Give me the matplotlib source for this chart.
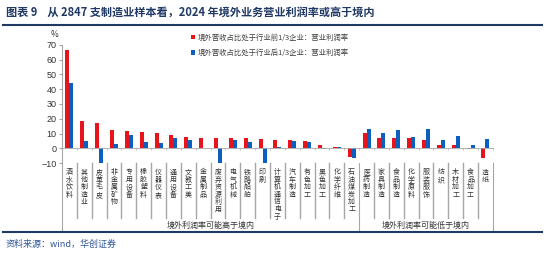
import matplotlib.pyplot as plt
import matplotlib.transforms as mtransforms
from matplotlib.lines import Line2D
import numpy as np

plt.rcParams['font.family'] = ['Noto Sans CJK SC', 'DejaVu Sans']

# 行业分类
categories = ['酒水饮料', '其他制造业', '皮革毛皮', '非金属矿物', '专用设备', '橡胶塑料',
              '仪器仪表', '通用设备', '文教工美', '金属制品', '废弃资源利用', '电气机械',
              '铁路船舶', '印刷', '计算机通信电子', '汽车制造', '有色加工', '黑色加工',
              '化学纤维', '石油煤炭加工',
              '医药制造', '家具制造', '食品制造', '化学原料', '服装服饰', '纺织',
              '木材加工', '食品加工', '造纸']
# 境外营收占比前1/3 / 后1/3 企业营业利润率 (%)
top_third = [66.4, 18.7, 17.1, 12.7, 11.8, 10.7, 10.4, 8.9, 7.6, 7.3, 7.3, 7.1,
             6.7, 6.4, 5.8, 5.3, 4.9, 2.4, 1.1, -5.6,
             10.4, 7.1, 6.9, 6.7, 5.3, 2.2, 2.0, -0.7, -6.7]
bottom_third = [43.9, 4.9, -10.0, 2.7, 9.1, 4.0, 3.3, 7.3, 5.3, 0.4, -10.0, 5.8,
                4.2, -10.0, 0.7, 4.7, 4.4, -0.2, 1.1, -6.7,
                12.9, 10.4, 12.2, 7.6, 12.9, 5.8, 8.4, 2.0, 6.0]
groups = ['境外利润率可能高于境内', '境外利润率可能低于境内']
group_sizes = [20, 9]
yticks = list(range(-10, 71, 10))

red = '#E8141C'
blue = '#0A5FBF'
navy = '#1F3864'
gray = '#A6A6A6'

fig = plt.figure(figsize=(5.5, 2.58), dpi=100)
ax = fig.add_axes([0.1127, 0.3678, 0.7833, 0.4589])

x = np.arange(len(categories))
w = 0.27
b1 = ax.bar(x - w / 2, top_third, w, color=red)
b2 = ax.bar(x + w / 2, bottom_third, w, color=blue)

ax.set_xlim(-0.5, len(categories) - 0.5)
ax.set_ylim(-10, 70)
ax.set_yticks(yticks)
ax.tick_params(axis='y', labelsize=6.5, length=2, color=gray, pad=2, labelcolor='#333333')
for t in ax.get_yticklabels():
    t.set_fontfamily('Liberation Sans')

ax.spines['top'].set_visible(False)
ax.spines['right'].set_visible(False)
ax.spines['left'].set_color(gray)
ax.spines['bottom'].set_position(('data', 0))
ax.spines['bottom'].set_color(gray)
ax.spines['bottom'].set_linewidth(0.6)
ax.set_xticks(np.arange(len(categories) + 1) - 0.5)
ax.set_xticklabels([])
ax.tick_params(axis='x', length=1.5, color=gray, width=0.5)

trans = mtransforms.blended_transform_factory(ax.transData, ax.transAxes)

# 分类标签（竖排）
for i, c in enumerate(categories):
    ax.text(i, -0.045, '\n'.join(c), transform=trans, ha='center', va='top',
            fontsize=5, linespacing=0.9, color='#333333')

# 分隔线
bounds = np.cumsum(group_sizes) - 0.5
for k in range(len(categories) + 1):
    xb = k - 0.5
    y_bot = -0.582 if (k == 0 or xb in bounds) else -0.464
    ax.add_line(Line2D([xb, xb], [0, y_bot], transform=trans, color=gray,
                       lw=0.8 if y_bot == -0.582 else 1.0, clip_on=False))

# 分组标签
start = -0.5
for g, n in zip(groups, group_sizes):
    ax.text(start + n / 2, -0.53, g, transform=trans, ha='center', va='center',
            fontsize=5.8, color='#333333')
    start += n

ax.text(-0.008, 1.05, '%', transform=ax.transAxes, ha='right', va='bottom',
        fontsize=6, color='#333333')

fig.legend([b1, b2],
           ['境外营收占比处于行业前1/3企业：营业利润率', '境外营收占比处于行业后1/3企业：营业利润率'],
           loc='upper left', bbox_to_anchor=(0.335, 0.895), frameon=False,
           fontsize=5.3, handlelength=0.6, handleheight=0.6, handletextpad=0.3,
           labelspacing=1.0, labelcolor='#404040')

# 标题和来源
fig.text(0.01, 0.952, '图表 9    从 2847 支制造业样本看，2024 年境外业务营业利润率或高于境内',
         fontsize=8, fontweight='bold', color=navy, va='center')
fig.add_artist(Line2D([0.005, 0.985], [0.903, 0.903], color=navy, lw=1.5))
fig.add_artist(Line2D([0.005, 0.985], [0.1008, 0.1008], color=navy, lw=1.5))
fig.text(0.01, 0.052, '资料来源：wind，华创证券', fontsize=6.5, color='#2E5597',
         style='italic', va='center')

fig.savefig('out.png', dpi=100)
